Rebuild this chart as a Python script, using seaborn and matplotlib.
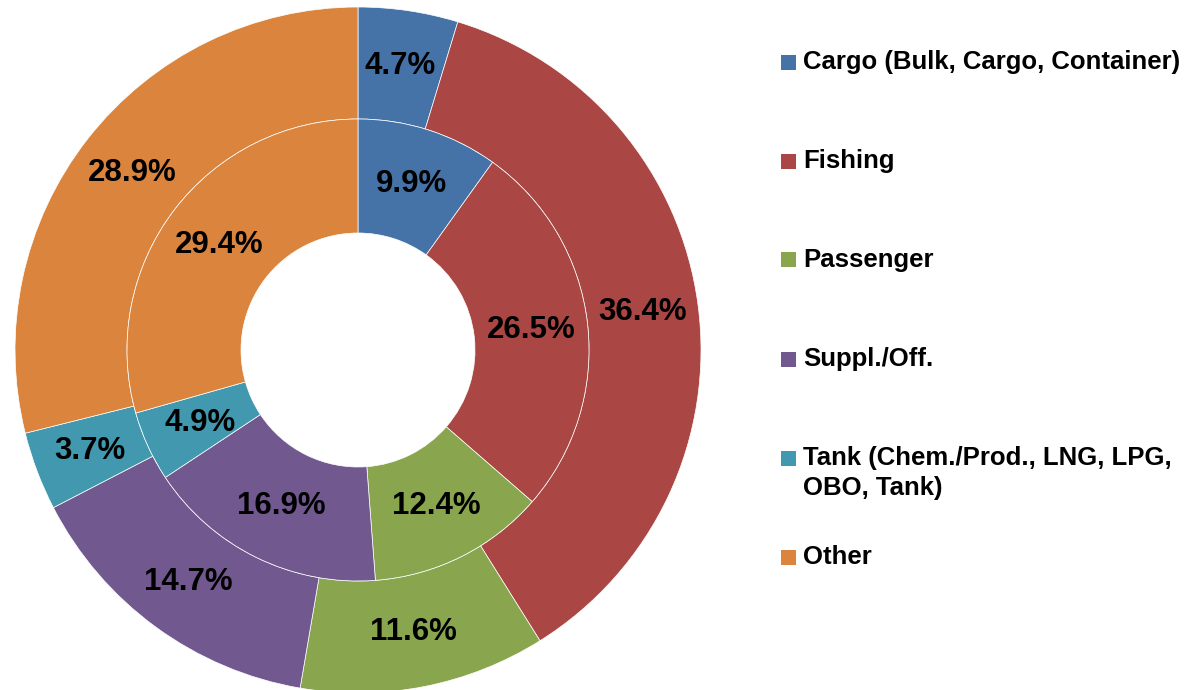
"""
Ship type shares - double donut chart (inner and outer ring)
"""

import matplotlib.pyplot as plt
from matplotlib.patches import Rectangle
import seaborn as sns

# -----------------------------
# Data
# -----------------------------
categories = [
    "Cargo (Bulk, Cargo, Container)",
    "Fishing",
    "Passenger",
    "Suppl./Off.",
    "Tank (Chem./Prod., LNG, LPG,\nOBO, Tank)",
    "Other",
]
outer_values = [4.7, 36.4, 11.6, 14.7, 3.7, 28.9]
inner_values = [9.9, 26.5, 12.4, 16.9, 4.9, 29.4]
colors = ["#4572A7", "#AA4643", "#89A54E", "#71588F", "#4198AF", "#DB843D"]

# -----------------------------
# Style
# -----------------------------
sns.set_theme(style="white")
plt.rcParams["font.family"] = ["Liberation Sans", "DejaVu Sans"]
plt.rcParams["font.weight"] = "bold"

W, H = 1195, 690
fig = plt.figure(figsize=(W / 100, H / 100), dpi=100)

# axes box of 690x690 px centred on the pie centre (358, 350 from top)
cx, cy, half = 358, 350, 345
ax = fig.add_axes([(cx - half) / W, (H - cy - half) / H, 2 * half / W, 2 * half / H])
ax.set_aspect("equal")
ax.axis("off")

R_OUT = 343 / half
R_MID = 231 / half
R_HOLE = 117 / half

wedge_style = dict(edgecolor="white", linewidth=0.5)
text_style = dict(fontsize=22.5, fontweight="bold", color="black")

ax.pie(
    outer_values, radius=R_OUT, colors=colors, startangle=90, counterclock=False,
    wedgeprops=dict(width=R_OUT - R_MID, **wedge_style),
    labels=[f"{v}%" for v in outer_values], labeldistance=(R_OUT + R_MID) / 2 / R_OUT,
    textprops=dict(ha="center", va="center", **text_style),
)
ax.pie(
    inner_values, radius=R_MID, colors=colors, startangle=90, counterclock=False,
    wedgeprops=dict(width=R_MID - R_HOLE, **wedge_style),
    labels=[f"{v}%" for v in inner_values], labeldistance=(R_MID + R_HOLE) / 2 / R_MID,
    textprops=dict(ha="center", va="center", **text_style),
)
# keep texts centred (pie sets ha by side)
for t in ax.texts:
    t.set_ha("center")
    t.set_va("center")
ax.set_xlim(-1, 1)
ax.set_ylim(-1, 1)

# -----------------------------
# Legend (manual, fixed row spacing)
# -----------------------------
row0, step = 62, 99
for i, (name, col) in enumerate(zip(categories, colors)):
    y = row0 + i * step
    fig.patches.append(Rectangle((781 / W, (H - y - 7.5) / H), 15 / W, 15 / H,
                                 transform=fig.transFigure, facecolor=col, edgecolor="none"))
    fig.text(803 / W, (H - y + 12) / H, name, ha="left", va="top",
             fontsize=18.5, fontweight="bold", color="black", linespacing=1.3)

plt.savefig("out.png", dpi=100)
plt.close()
